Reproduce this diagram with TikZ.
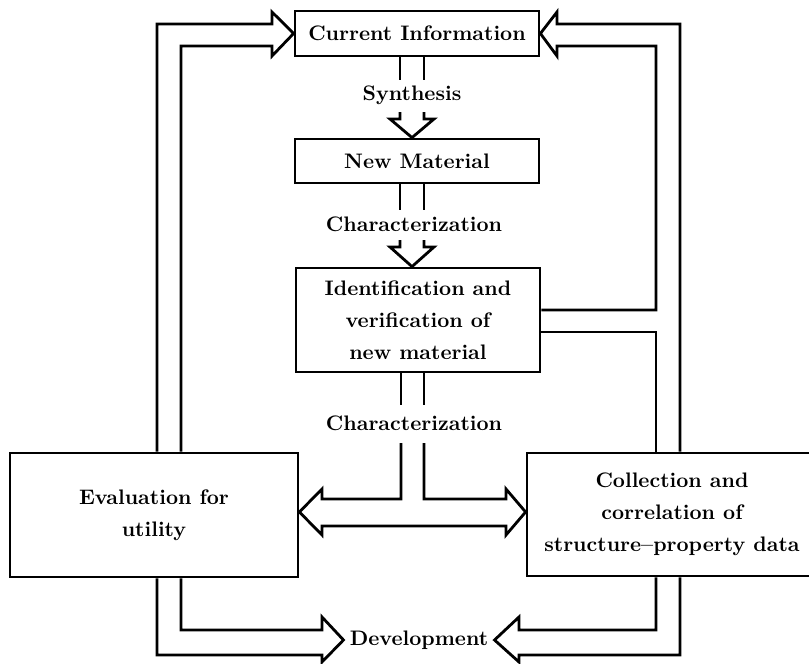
\documentclass[tikz,border=0pt]{standalone}
\usepackage{tikz}
\usetikzlibrary{positioning,calc}

\begin{document}
\begin{tikzpicture}[x=0.5pt, y=-0.5pt,
    block/.style={draw, line width=1.4pt, inner sep=0pt, align=center,
        font=\fontsize{10.5pt}{16pt}\selectfont\bfseries},
    lbl/.style={inner sep=3pt, font=\fontsize{10.5pt}{16pt}\selectfont\bfseries},
    pipe/.style={line width=1.4pt, line join=miter}]
    \useasboundingbox[fill=white] (0,0) rectangle (809,664);

    % Boxes
    \node[block, minimum width=122pt, minimum height=22.5pt] (info) at (417,33.5) {Current Information};
    \node[block, minimum width=122pt, minimum height=22pt] (newmat) at (417,161) {New Material};
    \node[block, minimum width=122pt, minimum height=52pt] (ident) at (418,320) {Identification and\\verification of\\new material};
    \node[block, minimum width=144pt, minimum height=62pt] (evalu) at (154,515) {Evaluation for\\utility};
    \node[block, minimum width=145pt, minimum height=61.5pt] (collect) at (672,514.5) {Collection and\\correlation of\\structure--property data};

    % Labels
    \node[lbl] (synth) at (412,95) {Synthesis};
    \node[lbl] (charA) at (414,224) {Characterization};
    \node[lbl] (charB) at (414,423) {Characterization};
    \node[lbl] (devel) at (419,640) {Development};

    % Synthesis
    \draw[pipe] (400,0 |- info.south) -- (400,80);
    \draw[pipe] (424,0 |- info.south) -- (424,80);
    \draw[pipe] (400,112) -- (400,119) -- (390,119) -- (412,0 |- newmat.north) -- (434,119) -- (424,119) -- (424,112);

    % Characterization (first)
    \draw[pipe] (400,0 |- newmat.south) -- (400,210);
    \draw[pipe] (424,0 |- newmat.south) -- (424,210);
    \draw[pipe] (400,240) -- (400,247) -- (390,247) -- (412,0 |- ident.north) -- (434,247) -- (424,247) -- (424,240);

    % Characterization (second), split to both sides
    \draw[pipe] (401,0 |- ident.south) -- (401,405);
    \draw[pipe] (424,0 |- ident.south) -- (424,405);
    \draw[pipe] (401,443) -- (401,499) -- (322,499) -- (322,489) -- (evalu.east |- 0,512)
        -- (322,535) -- (322,526) -- (506,526) -- (506,535) -- (collect.west |- 0,512)
        -- (506,489) -- (506,499) -- (424,499) -- (424,443);

    % Feedback to current information (left)
    \draw[pipe] (157,0 |- evalu.north) -- (157,24) -- (272,24) -- (272,12) -- (info.west)
        -- (272,56) -- (272,46) -- (181,46) -- (181,0 |- evalu.north);

    % Feedback to current information (right)
    \draw[pipe] (680,0 |- collect.north) -- (680,24) -- (557,24) -- (557,12) -- (info.east)
        -- (557,56) -- (557,46) -- (656,46) -- (656,310) -- (ident.east |- 0,310);
    \draw[pipe] (ident.east |- 0,332) -- (656,332) -- (656,0 |- collect.north);

    % Development
    \draw[pipe] (157,0 |- evalu.south) -- (157,655) -- (322,655) -- (322,662) -- (devel.west)
        -- (322,617) -- (322,630) -- (181,630) -- (181,0 |- evalu.south);
    \draw[pipe] (656,0 |- collect.south) -- (656,630) -- (519,630) -- (519,617) -- (devel.east)
        -- (519,662) -- (519,655) -- (680,655) -- (680,0 |- collect.south);
\end{tikzpicture}
\end{document}
